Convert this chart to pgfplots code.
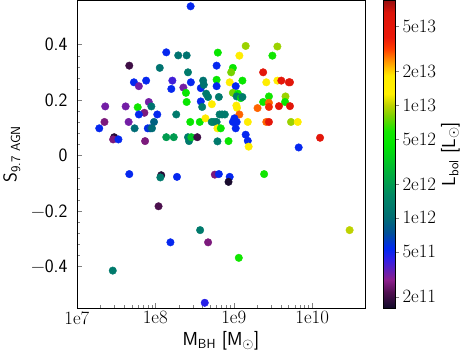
\documentclass[border=0pt]{standalone}
\usepackage{pgfplots}
\pgfplotsset{compat=1.18}
\pgfplotsset{
  tick label style={font=\fontsize{19}{22}\selectfont},
  label style={font=\fontsize{19}{22}\selectfont},
}
\begin{document}
\begin{tikzpicture}
\begin{axis}[
  width=291pt, height=311pt, scale only axis,
  xmode=log, xmin=1e7, xmax=4.7e10,
  ymin=-0.55, ymax=0.56,
  xtick={1e7,1e8,1e9,1e10},
  xticklabels={1e7,1e8,1e9,1e10},
  ytick={-0.4,-0.2,0,0.2,0.4},
  yticklabels={\textminus0.4,\textminus0.2,0,0.2,0.4},
  yticklabel style={font=\fontsize{19}{22}\selectfont\sffamily},
  yticklabel shift=6pt, ylabel shift=4pt,
  minor y tick num=4,
  xtick pos=lower, ytick pos=lower,
  tick align=inside,
  major tick length=5pt, minor tick length=3pt,
  xlabel={\textsf{M\textsubscript{BH} [M\textsubscript{$\odot$}]}},
  ylabel={\textsf{S\textsubscript{9.7 AGN}}},
  colormap={lbol}{
    rgb255(0pt)=(16,10,40)
    rgb255(14pt)=(80,16,80)
    rgb255(25pt)=(140,30,140)
    rgb255(33pt)=(100,30,180)
    rgb255(43pt)=(50,30,230)
    rgb255(53pt)=(0,40,240)
    rgb255(67pt)=(0,80,150)
    rgb255(81pt)=(0,110,115)
    rgb255(100pt)=(0,135,100)
    rgb255(120pt)=(0,175,60)
    rgb255(145pt)=(0,230,0)
    rgb255(157pt)=(20,230,0)
    rgb255(170pt)=(120,210,0)
    rgb255(180pt)=(190,210,0)
    rgb255(190pt)=(255,240,0)
    rgb255(206pt)=(255,235,0)
    rgb255(213pt)=(255,190,0)
    rgb255(220pt)=(255,140,0)
    rgb255(230pt)=(255,60,0)
    rgb255(240pt)=(235,25,10)
    rgb255(262pt)=(220,20,10)
    rgb255(273pt)=(150,15,15)
  },
  point meta min=11.20, point meta max=13.93,
  colorbar,
  colorbar style={
    at={(parent axis.north east)}, anchor=north west, xshift=10pt,
    width=12pt,
    ytick={11.301,11.699,12,12.301,12.699,13,13.301,13.699},
    yticklabels={2e11,5e11,1e12,2e12,5e12,1e13,2e13,5e13},
    ytick pos=right, tick align=outside, major tick length=4pt,
    ylabel={\textsf{L\textsubscript{bol} [L\textsubscript{$\odot$}]}},
    ylabel shift=-2pt,
  },
]
\addplot[scatter, only marks, mark=*, mark size=3.8pt,
  scatter src=explicit,
  scatter/use mapped color={draw=mapped color, fill=mapped color}]
  table[x=m, y=s, meta=l] {
m s l
2.82e8 0.538 11.72
1.38e8 0.372 11.72
1.96e8 0.361 12.05
2.51e8 0.361 12.05
4.66e7 0.324 11.30
1.14e8 0.316 12.05
2.61e8 0.300 12.10
6.27e8 0.371 12.70
6.05e8 0.324 11.72
5.34e7 0.264 11.72
6.17e7 0.250 11.50
7.64e7 0.270 11.72
1.65e8 0.270 11.60
1.60e8 0.240 11.72
2.28e8 0.245 11.50
2.46e8 0.226 12.70
2.84e8 0.264 11.72
3.80e8 0.243 11.72
4.07e8 0.270 12.05
4.15e8 0.255 12.05
4.45e8 0.223 12.10
4.71e8 0.211 12.10
2.51e8 0.193 12.70
3.80e8 0.195 11.72
3.96e8 0.175 12.10
5.26e8 0.185 13.20
2.30e7 0.177 11.50
4.19e7 0.177 11.50
5.97e7 0.174 12.75
8.26e7 0.193 11.50
8.91e7 0.177 12.05
7.26e7 0.154 11.42
6.17e7 0.148 11.72
1.06e8 0.148 11.72
1.85e8 0.148 12.10
2.25e7 0.121 11.42
4.57e7 0.121 11.50
9.63e7 0.121 11.95
2.79e8 0.121 12.70
3.69e8 0.121 12.70
4.36e8 0.134 13.25
5.24e8 0.121 12.15
5.60e8 0.121 12.15
6.05e8 0.121 12.10
1.93e7 0.098 11.72
5.45e7 0.098 12.00
8.02e7 0.098 11.72
8.58e7 0.098 11.80
9.08e7 0.098 12.00
6.20e8 0.098 13.20
2.99e7 0.066 11.25
2.90e7 0.058 11.42
3.39e7 0.058 11.72
7.41e7 0.052 11.42
1.38e8 0.066 12.30
1.72e8 0.066 12.30
2.61e8 0.066 12.10
2.69e8 0.052 12.10
2.88e8 0.066 12.50
3.43e8 0.066 11.30
6.20e8 0.051 12.10
1.42e9 0.395 12.95
1.18e9 0.360 13.20
9.75e8 0.316 12.70
9.27e8 0.300 12.90
6.05e8 0.273 12.70
6.05e8 0.250 11.72
8.88e8 0.264 13.15
1.06e9 0.250 11.72
1.29e9 0.270 12.70
9.75e8 0.226 12.90
1.13e9 0.223 12.70
1.09e9 0.213 12.10
1.23e9 0.207 12.60
6.46e8 0.211 12.10
1.29e9 0.211 12.10
1.08e9 0.180 13.20
1.10e9 0.172 13.20
6.60e8 0.148 12.10
7.10e8 0.148 12.10
7.70e8 0.148 12.10
1.18e9 0.148 13.45
1.02e9 0.134 11.72
9.75e8 0.121 11.72
1.09e9 0.121 11.72
1.51e9 0.121 13.20
6.84e8 0.098 12.70
1.06e9 0.098 11.72
8.58e8 0.052 12.70
1.42e9 0.075 11.72
1.51e9 0.053 11.72
1.55e9 0.032 13.20
3.60e9 0.393 12.95
3.11e9 0.360 12.75
2.37e9 0.300 13.72
2.60e9 0.264 13.20
3.60e9 0.270 13.20
4.04e9 0.270 13.70
5.04e9 0.264 13.72
5.21e9 0.264 13.75
2.81e9 0.213 12.75
4.57e9 0.213 12.95
2.37e9 0.193 12.75
2.81e9 0.190 13.45
4.51e9 0.193 12.70
2.01e9 0.171 13.45
2.81e9 0.175 13.55
3.77e9 0.178 13.72
5.21e9 0.178 13.75
2.60e9 0.121 13.45
2.81e9 0.121 13.72
5.37e9 0.121 12.95
6.55e9 0.121 13.20
6.73e9 0.029 11.72
1.26e10 0.064 13.72
4.66e7 -0.067 11.72
1.19e8 -0.071 11.25
1.16e8 -0.079 12.10
1.89e8 -0.077 11.72
5.74e8 -0.069 11.42
6.46e8 -0.067 11.72
8.88e8 -0.077 11.72
8.58e8 -0.095 11.22
2.44e9 -0.067 12.75
1.10e8 -0.183 11.33
3.73e8 -0.269 12.10
1.56e8 -0.313 11.72
4.71e8 -0.313 11.42
2.87e7 -0.415 12.10
4.27e8 -0.531 11.65
1.16e9 -0.369 12.75
3.00e10 -0.269 13.00
};
\end{axis}
\end{tikzpicture}
\end{document}
